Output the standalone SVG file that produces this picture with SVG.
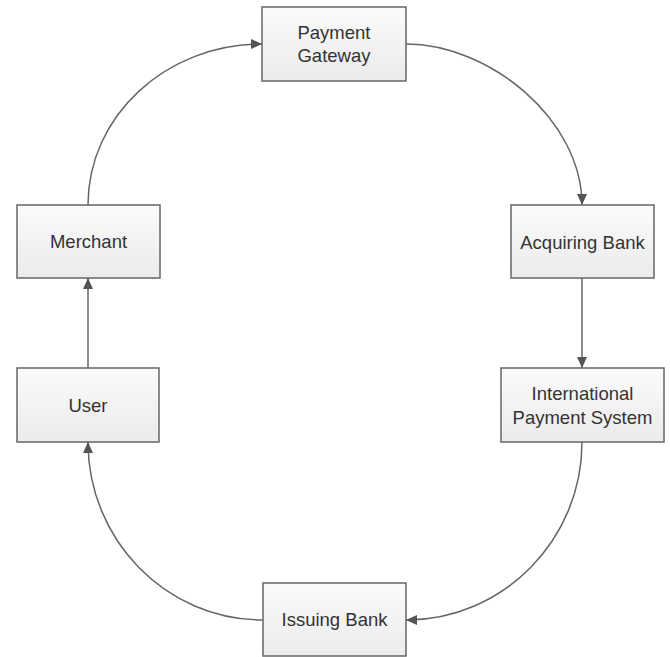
<svg xmlns="http://www.w3.org/2000/svg" width="670" height="657" viewBox="0 0 670 657">
<defs>
<linearGradient id="g" x1="0" y1="0" x2="0" y2="1">
<stop offset="0" stop-color="#fbfbfb"/>
<stop offset="1" stop-color="#ebebeb"/>
</linearGradient>
<marker id="arr" markerUnits="userSpaceOnUse" markerWidth="12" markerHeight="10" refX="11" refY="5" orient="auto">
<path d="M0,0 L11,5 L0,10 Z" fill="#555"/>
</marker>
</defs>
<style>
.box{fill:url(#g);stroke:#666;stroke-width:1.5}
.t{font-family:"Liberation Sans",Arial,sans-serif;font-size:18.5px;fill:#333;text-anchor:middle}
.c{fill:none;stroke:#666;stroke-width:1.5;marker-end:url(#arr)}
</style>
<rect width="670" height="657" fill="#fff"/>
<g id="connectors">
<path class="c" d="M88,205 C88,116 166,44 262,44"/>
<path class="c" d="M406,44 C490,44 582,120 582,205"/>
<path class="c" d="M582,278 L582,368"/>
<path class="c" d="M582,442 C582,540 503,620 406,620"/>
<path class="c" d="M263,620 C166,620 88,540 88,442"/>
<path class="c" d="M88,368 L88,278"/>
</g>
<g id="payment-gateway">
<rect class="box" x="262" y="7" width="144" height="74"/>
<text class="t" x="334" y="39">Payment</text>
<text class="t" x="334" y="62">Gateway</text>
</g>
<g id="merchant">
<rect class="box" x="17" y="205" width="143" height="73"/>
<text class="t" x="88.5" y="248">Merchant</text>
</g>
<g id="acquiring-bank">
<rect class="box" x="511" y="205" width="143" height="73"/>
<text class="t" x="582.5" y="249">Acquiring Bank</text>
</g>
<g id="international-payment-system">
<rect class="box" x="501" y="368" width="163" height="74"/>
<text class="t" x="582.5" y="400">International</text>
<text class="t" x="582.5" y="424">Payment System</text>
</g>
<g id="user">
<rect class="box" x="17" y="368" width="142" height="74"/>
<text class="t" x="88" y="412">User</text>
</g>
<g id="issuing-bank">
<rect class="box" x="263" y="583" width="143" height="73"/>
<text class="t" x="334.5" y="626">Issuing Bank</text>
</g>
</svg>
